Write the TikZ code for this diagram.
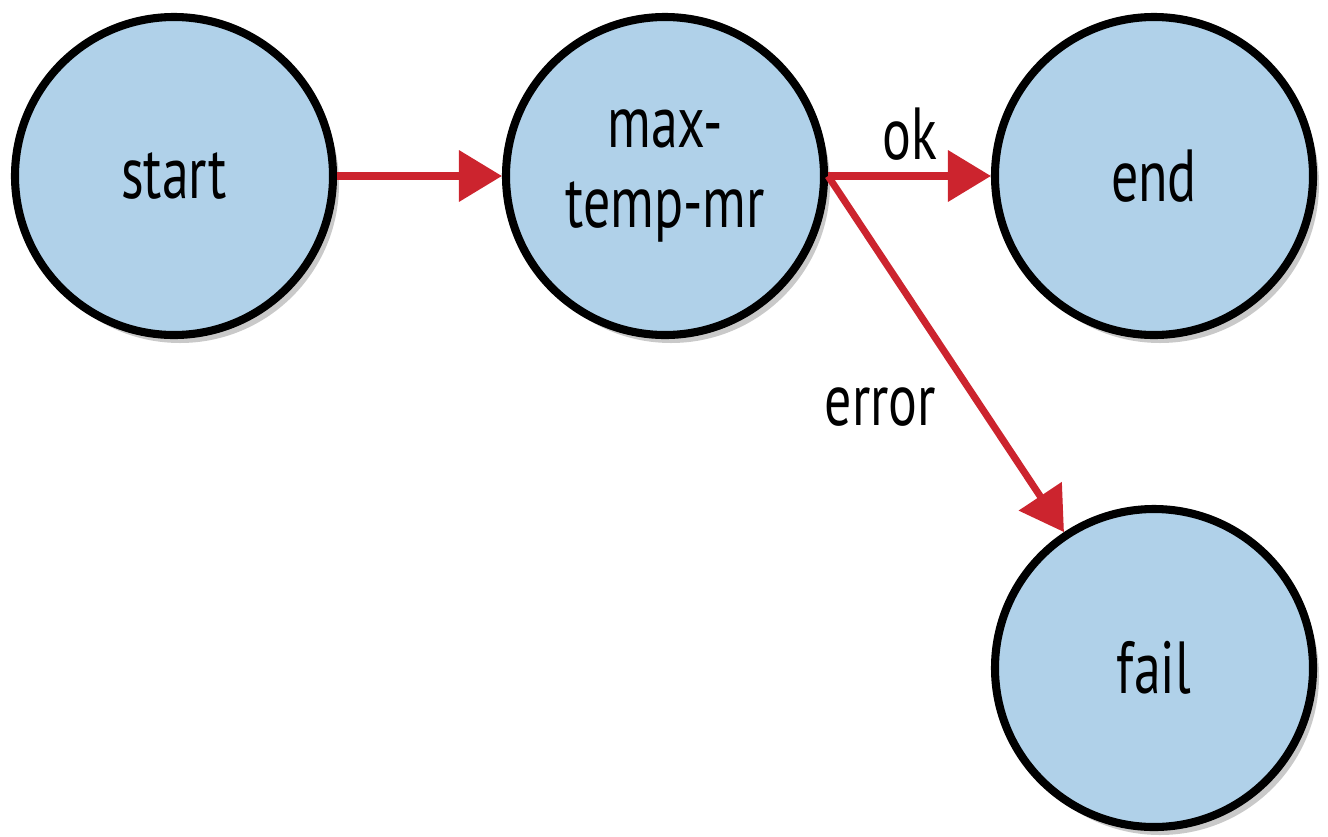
\documentclass[tikz,border=0pt]{standalone}
\usepackage{fontspec}
\setmainfont[FakeStretch=0.73]{PT Sans}
\usepackage{tikz}
\usepackage{xcolor}
\usetikzlibrary{arrows.meta,
	positioning,
	shadows}
\definecolor{statefill}{RGB}{176,209,233}
\definecolor{flowred}{RGB}{204,36,46}

\begin{document}
\begin{tikzpicture}[
	state/.style={circle, draw=black, line width=2.3pt, fill=statefill, minimum size=3.18cm,
		inner sep=0pt, align=center, font=\fontsize{21}{22.5}\selectfont,
		drop shadow={shadow xshift=0.06cm, shadow yshift=-0.08cm, opacity=0.3, fill=black!70}},
	flow/.style={draw=flowred, line width=2pt, -{Triangle[length=0.43cm, width=0.5cm]}},
	flowlabel/.style={font=\fontsize{21}{22.5}\selectfont, text=black}]
	\useasboundingbox (0, 0) rectangle (13.28, 8.36);
	\node[state] (start) at (1.74, 6.60) {start};
	\node[state] (maxtemp) at (6.65, 6.60) {max-\\temp-mr};
	\node[state] (end) at (11.54, 6.60) {end};
	\node[state] (fail) at (11.54, 1.68) {fail};
	\draw[flow] (start) -- (maxtemp);
	\draw[flow] (maxtemp.east) -- node[flowlabel, above] {ok} (end);
	\draw[flow] (maxtemp.east) -- node[flowlabel, pos=0.65, left=0.3cm] {error} (fail);
\end{tikzpicture}
\end{document}
